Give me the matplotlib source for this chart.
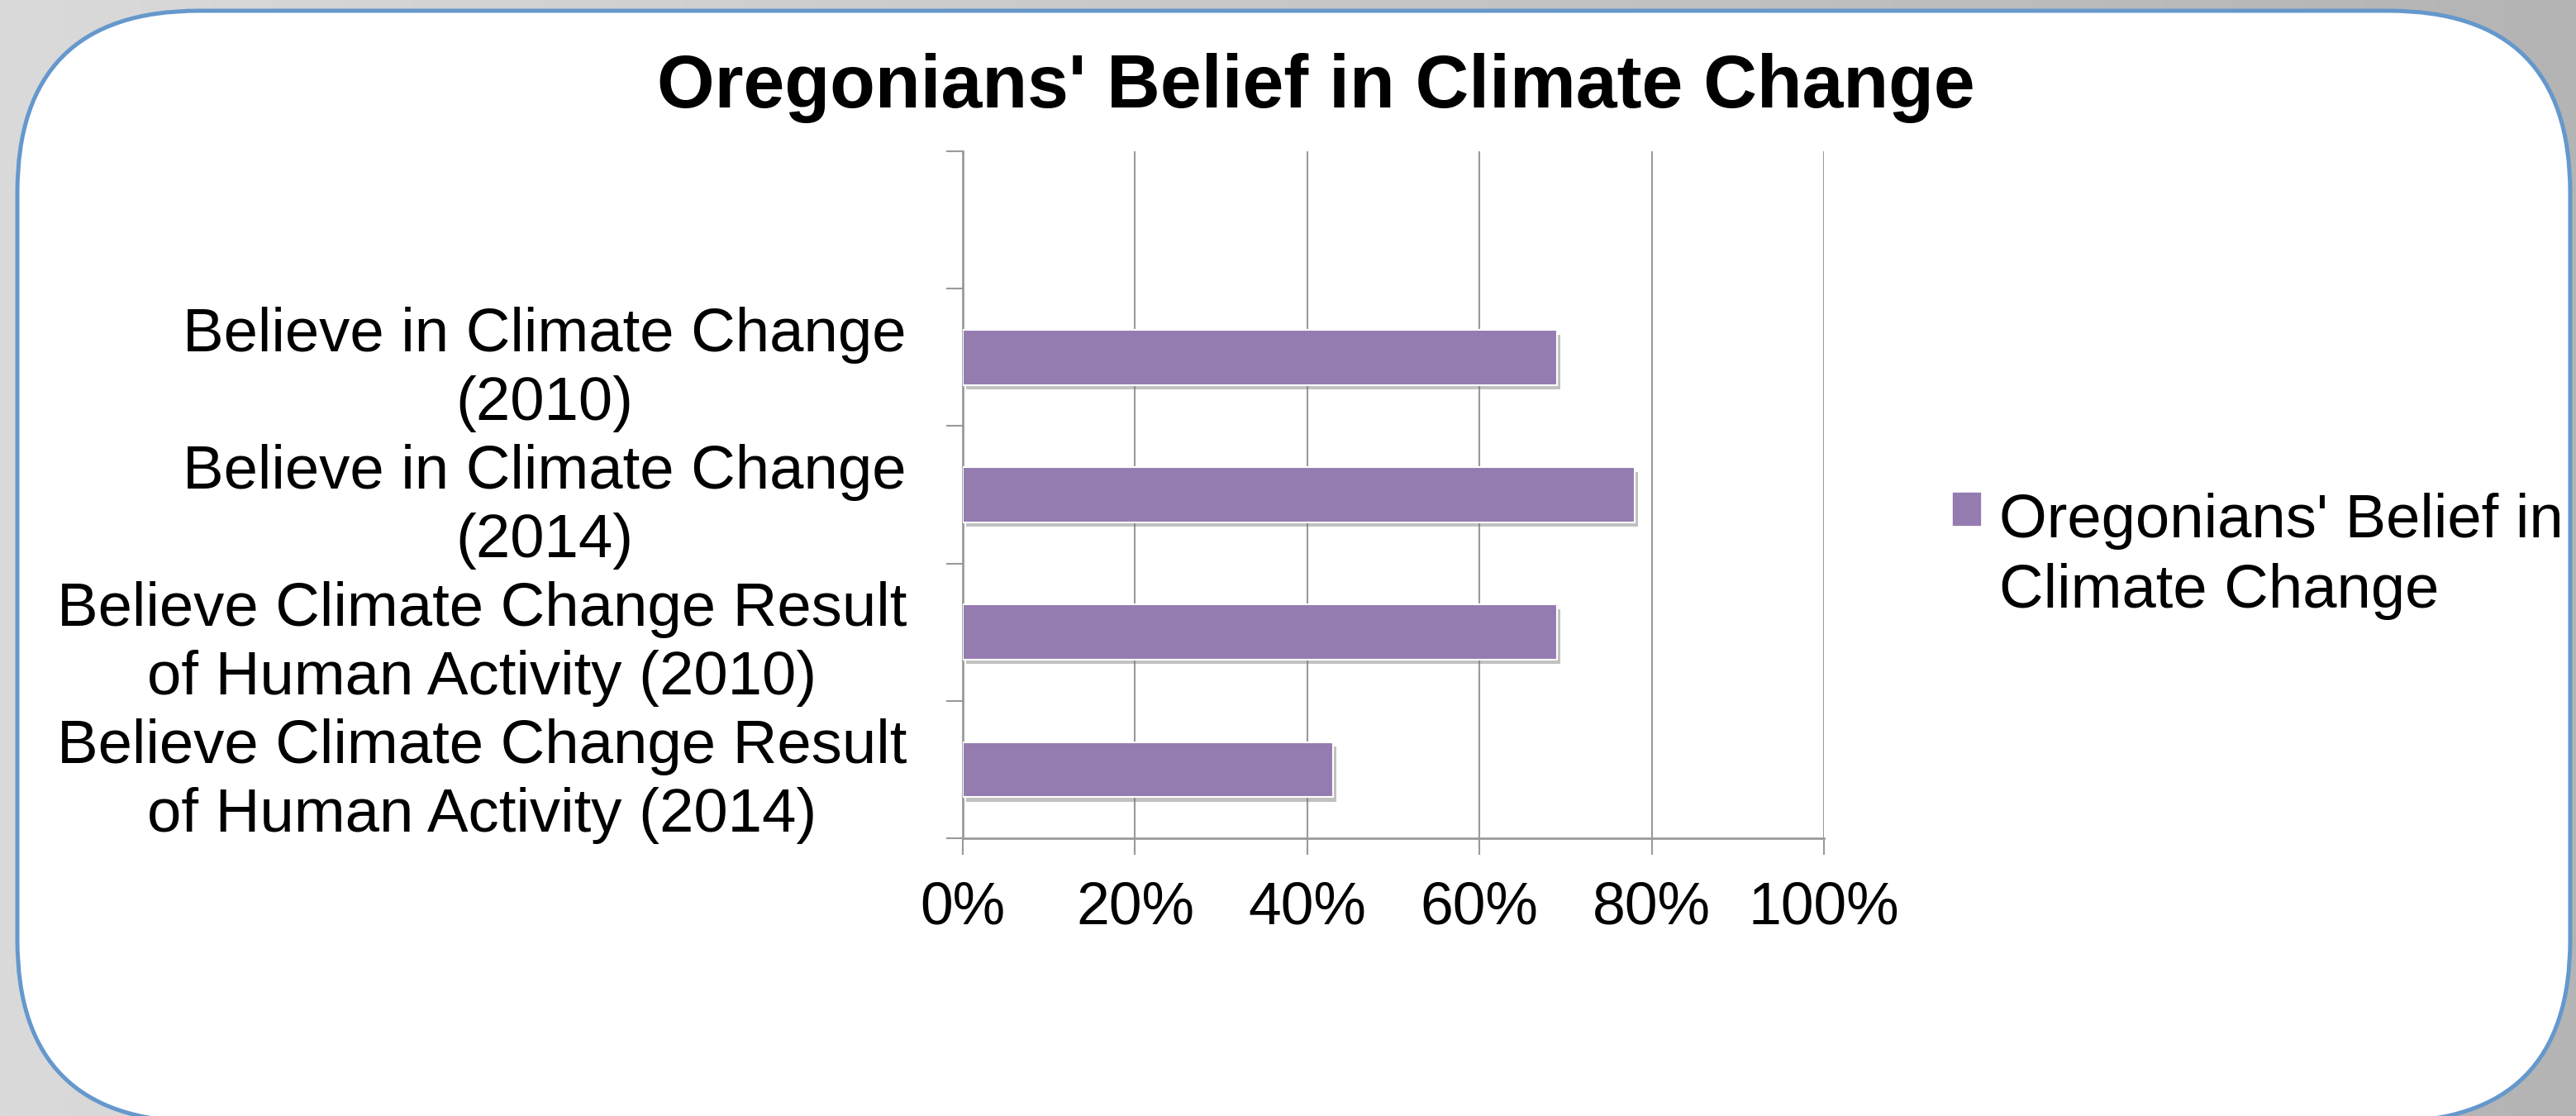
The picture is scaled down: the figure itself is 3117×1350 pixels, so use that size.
import textwrap
import numpy as np
import matplotlib
matplotlib.use("Agg")
import matplotlib.pyplot as plt
import matplotlib.patheffects as pe
from matplotlib.patches import FancyBboxPatch, Rectangle
from matplotlib.container import BarContainer
from matplotlib.legend_handler import HandlerPatch
from matplotlib.ticker import FixedLocator, PercentFormatter

title = "Oregonians' Belief in Climate Change"
series_name = "Oregonians' Belief in Climate Change"
categories = [
    "Believe in Climate Change (2010)",
    "Believe in Climate Change (2014)",
    "Believe Climate Change Result of Human Activity (2010)",
    "Believe Climate Change Result of Human Activity (2014)",
]
values = [0.69, 0.78, 0.69, 0.43]
x_ticks = [0, 0.2, 0.4, 0.6, 0.8, 1.0]

plt.rcParams['font.family'] = ['Liberation Sans', 'DejaVu Sans']

W, H = 3117, 1350
fig = plt.figure(figsize=(W / 100, H / 100), dpi=100)

# grey gradient backdrop with the rounded white panel
bg = fig.add_axes([0, 0, 1, 1], zorder=-10)
grad = np.linspace(218, 180, 256)[None, :] / 255
bg.imshow(np.dstack([grad] * 3), extent=[0, W, H, 0], aspect='auto')
bg.add_patch(FancyBboxPatch((21, 13), 3110 - 21, 1357 - 13,
                            boxstyle="round,pad=0,rounding_size=220",
                            fc='white', ec='#6598cc', lw=3.6))
bg.set_xlim(0, W)
bg.set_ylim(H, 0)
bg.axis('off')

gray = '#9a9a9a'
ax = fig.add_axes([1165 / W, 1 - 1014 / H, (2207 - 1165) / W, (1014 - 183) / H])
ax.set_facecolor('none')

y = np.arange(len(categories))[::-1]  # first category at the top
bars = ax.barh(y, values, height=0.4, color='#947bb0', edgecolor='white',
               linewidth=1.5, label=textwrap.fill(series_name, 21), zorder=3)
for b in bars:
    b.set_path_effects([pe.SimplePatchShadow(offset=(3, -4), shadow_rgbFace='#777777', alpha=0.45),
                        pe.Normal()])

ax.set_xlim(0, 1)
ax.set_ylim(-0.5, len(categories) + 0.5)  # empty slot on top, as in the original
ax.xaxis.set_major_locator(FixedLocator(x_ticks))
ax.xaxis.set_major_formatter(PercentFormatter(1.0, decimals=0))
ax.set_yticks(np.arange(-0.5, len(categories) + 1))
ax.set_yticklabels([])
ax.set_yticks(y, [textwrap.fill(c, 29) for c in categories], minor=True)
for lab in ax.get_yticklabels(minor=True):
    lab.set_multialignment('center')
    lab.set_linespacing(1.26)

ax.tick_params(axis='y', which='minor', length=0, pad=49, labelsize=53.6)
ax.tick_params(axis='y', which='major', length=14.4, width=1.5, color=gray)
ax.tick_params(axis='x', length=14.4, width=1.5, color=gray, pad=23, labelsize=51.5)
ax.grid(axis='x', color=gray, lw=1.5, zorder=0)
ax.set_axisbelow(True)
for s in ['top', 'right']:
    ax.spines[s].set_visible(False)
for s in ['left', 'bottom']:
    ax.spines[s].set_color(gray)
    ax.spines[s].set_linewidth(2)


class TopSquare(HandlerPatch):
    # legend square next to the first line of a wrapped label, no shadow
    def create_artists(self, legend, orig_handle, xdescent, ydescent,
                       width, height, fontsize, trans):
        p = Rectangle((-xdescent, -ydescent + 42), width, height)
        p.update_from(orig_handle.patches[0])
        legend._set_artist_props(p)
        p.set_clip_box(None)
        p.set_clip_path(None)
        p.set_path_effects([])
        p.set_linewidth(0.5)
        p.set_transform(trans)
        return [p]


leg = ax.legend(handler_map={BarContainer: TopSquare()},
                loc='upper left', bbox_to_anchor=(2362 / W, 1 - 596 / H),
                bbox_transform=fig.transFigure, frameon=False, fontsize=53.5,
                handlelength=0.47, handleheight=0.47, handletextpad=0.3,
                borderpad=0, borderaxespad=0)
for t in leg.get_texts():
    t.set_linespacing(1.3)

fig.text(0.511, 1 - 130 / H, title, ha='center', va='baseline',
         fontsize=64.5, fontweight='bold')

fig.savefig('out.png', dpi=100)
